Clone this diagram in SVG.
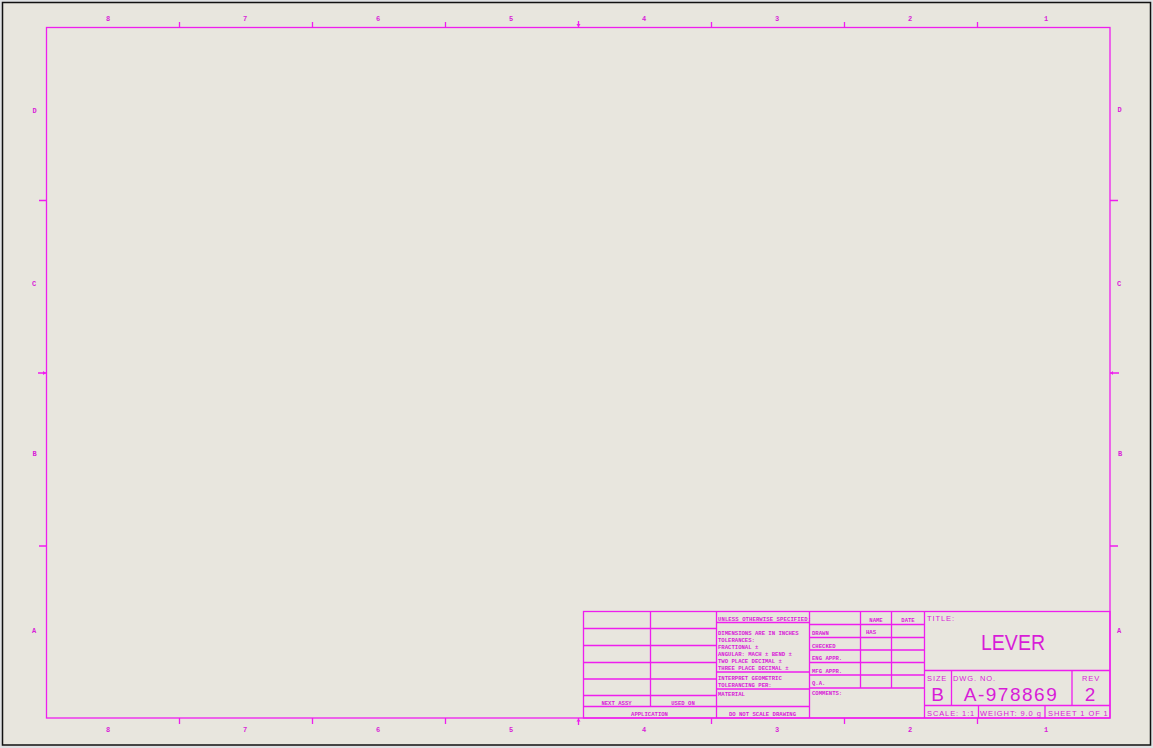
<svg xmlns="http://www.w3.org/2000/svg" width="1153" height="748" viewBox="0 0 1153 748">
<style>
.ln{stroke:#EE1EEE;stroke-width:1.3;fill:none}
.t{fill:#D81CD8;font-family:"Liberation Mono",monospace;font-size:5.6px;font-weight:bold}
.z{fill:#D81CD8;font-family:"Liberation Mono",monospace;font-size:7px;font-weight:bold}
.m{fill:#D81CD8;font-family:"Liberation Sans",Arial,sans-serif;font-size:7.5px;letter-spacing:0.9px}
.big{fill:#D81CD8;font-family:"Liberation Sans",Arial,sans-serif;font-weight:normal}
</style>
<rect x="0" y="0" width="1153" height="748" fill="#DFE1E3"/>
<rect x="2.5" y="2.5" width="1148" height="742.5" fill="#E8E6DE" stroke="#111" stroke-width="1.5"/>
<g id="frame">
<rect class="ln" x="46.5" y="27.5" width="1063.5" height="690.5"/>
</g>
<g id="zones">
<path class="ln" d="M179.5 22V27.5M312.5 22V27.5M445.5 22V27.5M578.5 21V27.5M711.5 22V27.5M844.5 22V27.5M977.5 22V27.5
M179.5 718V724M312.5 718V724M445.5 718V724M578.5 718V725M711.5 718V724M844.5 718V724M977.5 718V724
M39 200.5H46.5M38 373H46.5M39 546H46.5
M1110 200.5H1118M1110 373H1119M1110 546H1118"/>
<path d="M576.5 24L578.5 27L580.5 24Z M576.5 721.5L578.5 718.5L580.5 721.5Z M43 371L46 373L43 375Z M1113 371L1110.5 373L1113 375Z" fill="#EE1EEE"/>
<g text-anchor="middle">
<text class="z" x="108" y="21">8</text><text class="z" x="245" y="21">7</text><text class="z" x="378" y="21">6</text><text class="z" x="511" y="21">5</text><text class="z" x="644" y="21">4</text><text class="z" x="777" y="21">3</text><text class="z" x="910" y="21">2</text><text class="z" x="1046" y="21">1</text>
<text class="z" x="108" y="732">8</text><text class="z" x="245" y="732">7</text><text class="z" x="378" y="732">6</text><text class="z" x="511" y="732">5</text><text class="z" x="644" y="732">4</text><text class="z" x="777" y="732">3</text><text class="z" x="910" y="732">2</text><text class="z" x="1046" y="732">1</text>
<text class="z" x="34.5" y="113">D</text><text class="z" x="34" y="286">C</text><text class="z" x="34.5" y="456">B</text><text class="z" x="34" y="633">A</text>
<text class="z" x="1119.5" y="112">D</text><text class="z" x="1119" y="286">C</text><text class="z" x="1120" y="456">B</text><text class="z" x="1119" y="633">A</text>
</g>
</g>
<g id="title-block">
<rect class="ln" x="583.5" y="611.5" width="526.5" height="106.5"/>
<path class="ln" d="M650.5 611.5V706.5M716.5 611.5V718M809.5 611.5V718M924.5 611.5V718
M583.5 628.5H716.5M583.5 645.5H716.5M583.5 662.5H716.5M583.5 679H716.5M583.5 695.5H716.5M583.5 706.5H809.5
M716.5 622.5H809.5M716.5 672H809.5M716.5 689H809.5
M809.5 624.5H924.5M809.5 637.5H924.5M809.5 650H924.5M809.5 662.5H924.5M809.5 675H924.5M809.5 688H924.5
M860.5 611.5V688M891.5 611.5V688
M924.5 670.5H1110M924.5 705.5H1110M951.5 670.5V705.5M1072 670.5V705.5M978.5 705.5V718M1045 705.5V718"/>
<g id="left-cells">
<text class="t" x="616.5" y="705" text-anchor="middle">NEXT ASSY</text>
<text class="t" x="683" y="705" text-anchor="middle">USED ON</text>
<text class="t" x="649.5" y="716" text-anchor="middle">APPLICATION</text>
</g>
<g id="tolerance-cells">
<text class="t" x="718" y="621" textLength="93" lengthAdjust="spacing">UNLESS OTHERWISE SPECIFIED:</text>
<text class="t" x="718" y="634.5">DIMENSIONS ARE IN INCHES</text>
<text class="t" x="718" y="641.5">TOLERANCES:</text>
<text class="t" x="718" y="648.5">FRACTIONAL ±</text>
<text class="t" x="718" y="656">ANGULAR: MACH ±     BEND ±</text>
<text class="t" x="718" y="663">TWO PLACE DECIMAL   ±</text>
<text class="t" x="718" y="670">THREE PLACE DECIMAL ±</text>
<text class="t" x="718" y="680">INTERPRET GEOMETRIC</text>
<text class="t" x="718" y="687">TOLERANCING PER:</text>
<text class="t" x="718" y="696">MATERIAL</text>
<text class="t" x="762.5" y="716" text-anchor="middle">DO NOT SCALE DRAWING</text>
</g>
<g id="approval-cells">
<text class="t" x="876" y="622" text-anchor="middle">NAME</text>
<text class="t" x="908" y="622" text-anchor="middle">DATE</text>
<text class="t" x="812" y="634.5">DRAWN</text>
<text class="t" x="866" y="634" font-size="6.5">HAS</text>
<text class="t" x="812" y="647.5">CHECKED</text>
<text class="t" x="812" y="660">ENG APPR.</text>
<text class="t" x="812" y="672.5">MFG APPR.</text>
<text class="t" x="812" y="685">Q.A.</text>
<text class="t" x="812" y="695">COMMENTS:</text>
</g>
<g id="title-cells">
<text class="m" x="927" y="621">TITLE:</text>
<text class="big" x="981" y="650" font-size="21.5" textLength="64" lengthAdjust="spacingAndGlyphs">LEVER</text>
<text class="m" x="927" y="681">SIZE</text>
<text class="m" x="953" y="681">DWG.  NO.</text>
<text class="m" x="1091" y="681" text-anchor="middle">REV</text>
<text class="big" x="937.5" y="700.5" text-anchor="middle" font-size="19">B</text>
<text class="big" x="1011" y="700.5" text-anchor="middle" font-size="19" letter-spacing="1.5">A-978869</text>
<text class="big" x="1090" y="700.5" text-anchor="middle" font-size="19">2</text>
<text class="m" x="927" y="716">SCALE: 1:1</text>
<text class="m" x="980" y="716">WEIGHT: 9.0 g</text>
<text class="m" x="1048" y="716">SHEET 1 OF 1</text>
</g>
</g>
</svg>
